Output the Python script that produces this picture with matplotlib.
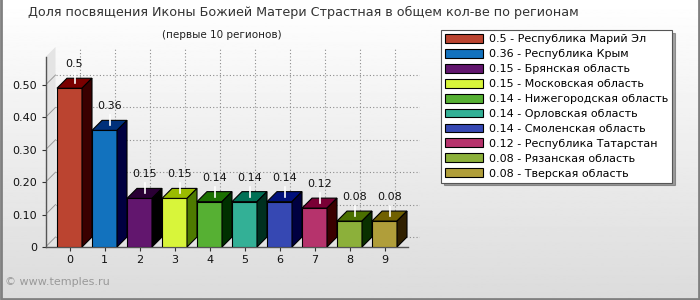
import numpy as np
import matplotlib
matplotlib.use("Agg")
import matplotlib.pyplot as plt
from matplotlib.patches import Polygon, Rectangle, Patch

plt.rcParams['font.family'] = ['DejaVu Sans']

values = [0.49, 0.36, 0.15, 0.15, 0.14, 0.14, 0.14, 0.12, 0.08, 0.08]
value_labels = ['0.5', '0.36', '0.15', '0.15', '0.14', '0.14', '0.14', '0.12', '0.08', '0.08']
regions = ['Республика Марий Эл', 'Республика Крым', 'Брянская область',
           'Московская область', 'Нижегородская область', 'Орловская область',
           'Смоленская область', 'Республика Татарстан', 'Рязанская область',
           'Тверская область']
front_colors = ['#bb4430', '#1272be', '#62166e', '#d8f53a', '#56b033',
                '#33b096', '#3648b3', '#b6336c', '#8cb03a', '#b09e3a']
top_colors = ['#7a0000', '#00307a', '#2a0035', '#9abb00', '#1b7000',
              '#007055', '#00107a', '#7a0035', '#4a7000', '#706000']
side_colors = ['#3a0000', '#000040', '#000000', '#4e7a00', '#003000',
               '#003020', '#000040', '#3a0000', '#0a3000', '#302000']
yticks = [0, 0.1, 0.2, 0.3, 0.4, 0.5]
ytick_labels = ['0', '0.10', '0.20', '0.30', '0.40', '0.50']

W, H = 700, 300
fig = plt.figure(figsize=(7, 3), dpi=100)

# background gradient
bg = fig.add_axes([0, 0, 1, 1], zorder=-10)
grad = np.linspace(1.0, 0.86, 256).reshape(-1, 1)
bg.imshow(grad, aspect='auto', cmap='gray', vmin=0, vmax=1, extent=[0, 1, 0, 1])
bg.plot([0.001, 0.001, 0.999, 0.999], [1, 0.003, 0.003, 1], color='#808080', lw=2)
bg.set_xlim(0, 1)
bg.set_ylim(0, 1)
bg.axis('off')

# main axes (pixel geometry of the reference)
left_px, right_px, top_px, bot_px = 45.5, 420, 47, 247
ax = fig.add_axes([left_px / W, 1 - bot_px / H, (right_px - left_px) / W, (bot_px - top_px) / H])
ax.patch.set_alpha(0)
step = 35.0
ppu = 324.0
xmin = -(69.5 - left_px) / step
xmax = (right_px - 69.5) / step
ytop = (bot_px - top_px) / ppu
ax.set_xlim(xmin, xmax)
ax.set_ylim(0, ytop)
dx = 10 / step
dy = 10 / ppu
w = 25 / step

# left wall
ax.add_patch(Polygon([(xmin, 0), (xmin + dx, dy), (xmin + dx, ytop), (xmin, ytop - dy)],
                     closed=True, facecolor='#e4e4e4', edgecolor='none', zorder=0))

grid_c = '#8c8c8c'
for t in yticks:
    ax.plot([xmin, xmin + dx], [t, t + dy], color='#999999', lw=0.7, zorder=1)
    ax.plot([xmin + dx, xmax], [t + dy, t + dy], color=grid_c, lw=0.8,
            linestyle=(0, (1, 2)), zorder=1)
for i in range(len(values)):
    ax.plot([i + dx, i + dx], [dy, ytop], color=grid_c, lw=0.8,
            linestyle=(0, (1, 2)), zorder=1)

for i, v in enumerate(values):
    x0, x1 = i - w / 2, i + w / 2
    ax.add_patch(Rectangle((x0, 0), w, v, facecolor=front_colors[i],
                           edgecolor='black', lw=0.8, zorder=3))
    ax.add_patch(Polygon([(x0, v), (x1, v), (x1 + dx, v + dy), (x0 + dx, v + dy)],
                         closed=True, facecolor=top_colors[i], edgecolor='black', lw=0.8, zorder=3))
    ax.add_patch(Polygon([(x1, 0), (x1 + dx, dy), (x1 + dx, v + dy), (x1, v)],
                         closed=True, facecolor=side_colors[i], edgecolor='black', lw=0.8, zorder=3))
    cx = i + dx / 2
    cy = v + dy / 2
    ax.plot([cx, cx], [cy, cy + 10 / ppu], color='white', lw=1.2, zorder=4)
    ax.text(cx, cy + 14 / ppu, value_labels[i], ha='center', va='bottom',
            fontsize=8, color='#111111', zorder=5)

for s in ['top', 'right']:
    ax.spines[s].set_visible(False)
ax.spines['left'].set_bounds(0, ytop - dy)
ax.spines['bottom'].set_bounds(xmin, (408 - 69.5) / step)
for s in ['left', 'bottom']:
    ax.spines[s].set_color('#555555')
    ax.spines[s].set_linewidth(1.0)
ax.set_xticks(range(len(values)))
ax.set_xticklabels([str(i) for i in range(len(values))])
ax.set_yticks(yticks)
ax.set_yticklabels(ytick_labels)
ax.tick_params(axis='both', labelsize=8, length=3, color='#333333', labelcolor='#111111', pad=3)

# legend
handles = [Patch(facecolor=front_colors[i], edgecolor='black', lw=0.8,
                 label=f'{value_labels[i]} - {regions[i]}') for i in range(len(values))]
leg = fig.legend(handles=handles, loc='upper left',
                 bbox_to_anchor=(441 / W, 1 - 30 / H), fontsize=8,
                 frameon=True, fancybox=False, shadow=True, edgecolor='#555555',
                 handlelength=3.4, handleheight=0.85, handletextpad=0.6,
                 labelspacing=0.42, borderpad=0.35, borderaxespad=0)
leg.get_frame().set_linewidth(0.8)

fig.text(28 / W, 1 - 12 / H, 'Доля посвящения Иконы Божией Матери Страстная в общем кол-ве по регионам',
         fontsize=9.2, color='#333333', ha='left', va='center')
fig.text(222 / W, 1 - 35 / H, '(первые 10 регионов)', fontsize=7.5, color='#222222',
         ha='center', va='center')
fig.text(5 / W, 1 - 282 / H, '© www.temples.ru', fontsize=8, color='#999999',
         ha='left', va='center')

fig.savefig('out.png', dpi=100)
